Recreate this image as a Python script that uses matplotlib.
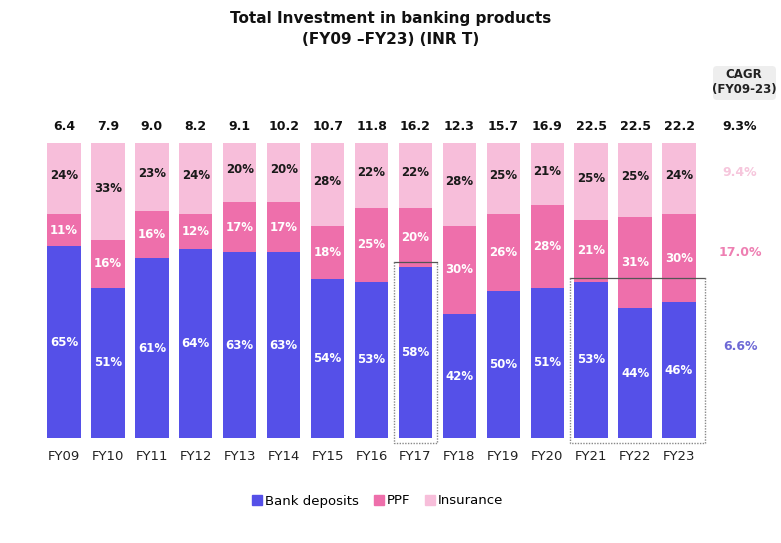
import matplotlib.pyplot as plt
from matplotlib.patches import FancyBboxPatch
from matplotlib.lines import Line2D

# data
years = ['FY09', 'FY10', 'FY11', 'FY12', 'FY13', 'FY14', 'FY15', 'FY16',
         'FY17', 'FY18', 'FY19', 'FY20', 'FY21', 'FY22', 'FY23']
totals = [6.4, 7.9, 9.0, 8.2, 9.1, 10.2, 10.7, 11.8, 16.2, 12.3, 15.7, 16.9, 22.5, 22.5, 22.2]
bank = [65, 51, 61, 64, 63, 63, 54, 53, 58, 42, 50, 51, 53, 44, 46]
ppf = [11, 16, 16, 12, 17, 17, 18, 25, 20, 30, 26, 28, 21, 31, 30]
insurance = [24, 33, 23, 24, 20, 20, 28, 22, 22, 28, 25, 21, 25, 25, 24]
cagr_total = '9.3%'
cagr_labels = ['6.6%', '17.0%', '9.4%']      # bank, ppf, insurance
cagr_ypos = [31, 63, 90]

c_bank = '#5550E8'
c_ppf = '#EE6FAB'
c_ins = '#F7BEDA'
c_cagr = ['#6E69D6', '#EE7FB2', '#F6C6DC']

fig = plt.figure(figsize=(7.81, 5.43), dpi=100)
ax = fig.add_axes([0, 0, 1, 1])
ax.axis('off')

# pixel mapping: bar i centre at 64 + 43.93*i, bar bottom y=438px, top y=143px
sp = 43.93
ax.set_xlim(-64 / sp, (781 - 64) / sp)
ppu = (438 - 143) / 100
ax.set_ylim(-(543 - 438) / ppu, 100 + 143 / ppu)

x = list(range(len(years)))
w = 0.76
top = [100 - b - p for b, p in zip(bank, ppf)]   # keep every bar at 100
ax.bar(x, bank, w, color=c_bank, zorder=2)
ax.bar(x, ppf, w, bottom=bank, color=c_ppf, zorder=2)
ax.bar(x, top, w, bottom=[b + p for b, p in zip(bank, ppf)], color=c_ins, zorder=2)

for i in x:
    ax.text(i, bank[i] / 2, f'{bank[i]}%', ha='center', va='center',
            color='white', fontsize=8.5, fontweight='bold', zorder=3)
    ax.text(i, bank[i] + ppf[i] / 2, f'{ppf[i]}%', ha='center', va='center',
            color='white', fontsize=8.5, fontweight='bold', zorder=3)
    ax.text(i, bank[i] + ppf[i] + top[i] / 2 + 1, f'{insurance[i]}%', ha='center',
            va='center', color='#1a1a1a', fontsize=8.5, fontweight='bold', zorder=3)
    ax.text(i, 105.5, f'{totals[i]:.1f}', ha='center', va='center',
            color='#111111', fontsize=9, fontweight='bold')
    ax.text(i, -6.2, years[i], ha='center', va='center', color='#222222', fontsize=9.5)

# CAGR column
xc = (740 - 64) / sp
ax.text(xc, 105.5, cagr_total, ha='center', va='center', color='#111111',
        fontsize=9, fontweight='bold')
for lab, yy, col in zip(cagr_labels, cagr_ypos, c_cagr):
    ax.text(xc, yy, lab, ha='center', va='center', color=col, fontsize=9, fontweight='bold')

box = FancyBboxPatch((713, 543 - 100), 63, 34, boxstyle='round,pad=0,rounding_size=4',
                     transform=None, facecolor='#EEEEEE', edgecolor='none')
fig.patches.append(box)
fig.text(744 / 781, 1 - 82 / 543, 'CAGR\n(FY09-23)', ha='center', va='center',
         fontsize=8.5, fontweight='bold', color='#222222', linespacing=1.2)

# highlight boxes (solid top, dotted sides/bottom)
def highlight(x0, x1, ytop):
    yb = -1.6
    ax.plot([x0, x1], [ytop, ytop], color='#555555', lw=0.9, zorder=4)
    ax.plot([x0, x0, x1, x1], [ytop, yb, yb, ytop], color='#888888', lw=1.0,
            ls=(0, (1, 1)), zorder=4)

highlight(8 - 0.48, 8 + 0.48, bank[8] + 1.6)
highlight(12 - 0.48, 14 + 0.6, bank[12] + 1.3)

# title
fig.text(0.5, 1 - 18 / 543, 'Total Investment in banking products', ha='center',
         va='center', fontsize=11, fontweight='bold', color='#111111')
fig.text(0.5, 1 - 40 / 543, '(FY09 \u2013FY23) (INR T)', ha='center',
         va='center', fontsize=11, fontweight='bold', color='#111111')

# legend
handles = [Line2D([], [], marker='s', ls='none', color=c, markersize=7)
           for c in [c_bank, c_ppf, c_ins]]
fig.legend(handles, ['Bank deposits', 'PPF', 'Insurance'], loc='center',
           bbox_to_anchor=(377 / 781, 1 - 501 / 543), ncol=3, frameon=False,
           fontsize=9.5, handletextpad=0.1, columnspacing=1.0, handlelength=1.0)

fig.savefig('out.png', dpi=100, facecolor='white')
